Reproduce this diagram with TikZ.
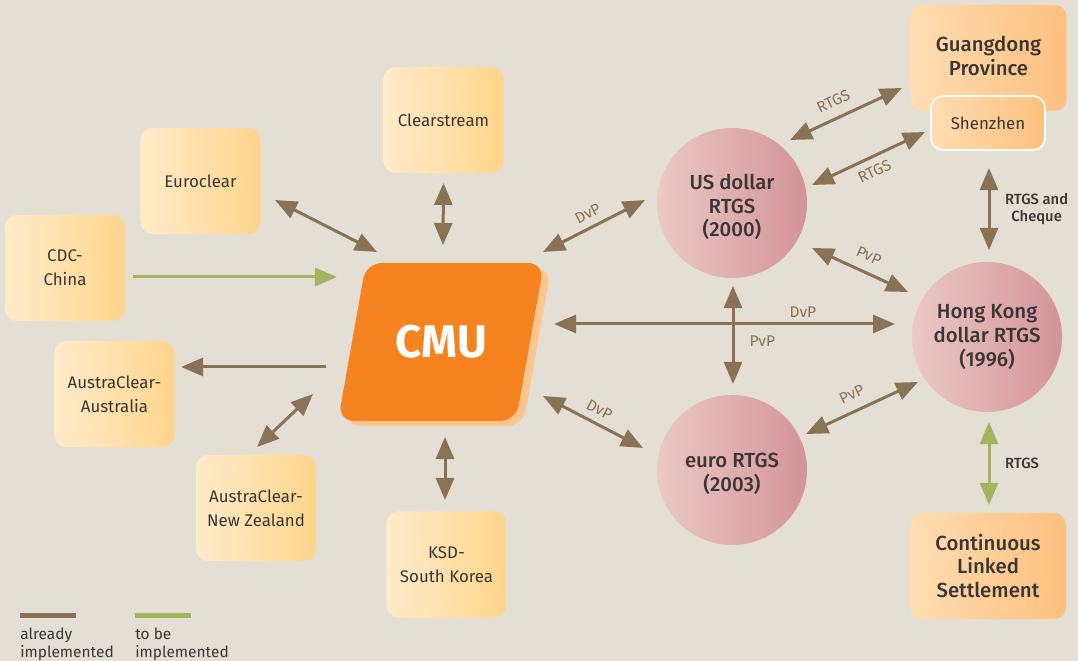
\documentclass[tikz,border=0pt]{standalone}
\usepackage{fontspec}
\setmainfont{Fira Sans}
\newfontfamily\medfont{Fira Sans Medium}
\usetikzlibrary{arrows.meta, calc}
\definecolor{bg}{HTML}{E4DFD4}
\definecolor{boxl}{HTML}{FFEBC9}
\definecolor{boxr}{HTML}{FFD58C}
\definecolor{hil}{HTML}{FFDDB2}
\definecolor{hir}{HTML}{FDC07E}
\definecolor{circl}{HTML}{EBC8C7}
\definecolor{circr}{HTML}{D3939A}
\definecolor{cmuorange}{HTML}{F5831F}
\definecolor{cmushade}{HTML}{FFC58F}
\definecolor{linkbrown}{HTML}{8A7255}
\definecolor{linkgreen}{HTML}{A5B35F}
\definecolor{ink}{HTML}{3A3634}
\tikzset{
	box/.style={rounded corners=3mm, minimum width=3cm, minimum height=2.65cm, inner sep=0pt,
		left color=boxl, right color=boxr, text=ink, align=center, font=\fontsize{12}{17}\selectfont}
}
\tikzset{
	hibox/.style={box, minimum width=3.9cm, left color=hil, right color=hir, font=\medfont\fontsize{14.5}{17}\selectfont}
}
\tikzset{
	circ/.style={circle, minimum size=3.75cm, inner sep=0pt, left color=circl, right color=circr},
	ctext/.style={text=ink, align=center, yshift=-1mm, font=\medfont\fontsize{14.5}{16.8}\selectfont}
}
\tikzset{
	both/.style={<->, draw=linkbrown, line width=0.75mm},
	one/.style={->, draw=linkbrown, line width=0.75mm},
	lbl/.style={font=\fontsize{11}{13}\selectfont, text=linkbrown, inner sep=5pt},
	farlbl/.style={lbl, inner sep=7pt},
	sidelbl/.style={font=\medfont\fontsize{10.5}{11.5}\selectfont, text=ink, align=center}
}

\begin{document}
\begin{tikzpicture}[x=0.025cm, y=-0.025cm, >={Triangle[length=5.5mm, width=4.5mm]}]
  \fill[bg] (0,0) rectangle (1078,661);
  \useasboundingbox (0,0) rectangle (1078,661);

  \node[box] (euroclear) at (200.5,181) {Euroclear};
  \node[box] (clear) at (443.5,120) {Clearstream};
  \node[box] (cdc) at (65,268) {CDC-\\China};
  \node[box] (ausau) at (114.5,394) {AustraClear-\\Australia};
  \node[box] (ausnz) at (256,508) {AustraClear-\\New Zealand};
  \node[box] (ksd) at (446.5,564.5) {KSD-\\South Korea};

  \begin{scope}[shift={(441,342)}]
    \fill[cmushade, rounded corners=4mm] (-68,-74) -- (110,-74) -- (82,84) -- (-96,84) -- cycle;
    \fill[cmuorange, rounded corners=4mm] (-75,-79) -- (103,-79) -- (75,79) -- (-103,79) -- cycle;
  \end{scope}
  \node[text=white, font=\bfseries\fontsize{32.5}{36}\selectfont] (cmu) at (441,342) {CMU};

  \node[circ, label={[ctext]center:{US dollar\\RTGS\\(2000)}}] (us) at (732,203) {};
  \node[circ, label={[ctext, yshift=1mm]center:{Hong Kong\\dollar RTGS\\(1996)}}] (hk) at (987,337) {};
  \node[circ, label={[ctext]center:{euro RTGS\\(2003)}}] (euro) at (732,470) {};

  \node[hibox, label={[ctext, yshift=1.5mm, font=\medfont\fontsize{14.5}{17}\selectfont]center:{Guangdong\\Province}}] (gd) at (988.5,58) {};
  \node[hibox, minimum width=2.85cm, minimum height=1.35cm, draw=white, line width=0.4mm,
    font=\fontsize{12}{14}\selectfont] (sz) at (988,123) {Shenzhen};
  \node[hibox] (cls) at (988,566) {Continuous\\Linked\\Settlement};

  \draw[both] ($(euroclear)+(74.5,19)$) -- ($(cmu)+(-64,-90)$);
  \draw[both] ($(clear)+(0,63)$) -- ($(cmu)+(2,-97)$);
  \draw[->, draw=linkgreen, line width=0.75mm] ($(cdc)+(68,9)$) -- ($(cmu)+(-104,-65)$);
  \draw[one] ($(cmu)+(-115,25)$) -- ($(ausau)+(66.5,-27)$);
  \draw[both] ($(ausnz)+(1,-61)$) -- ($(cmu)+(-128,52)$);
  \draw[both] ($(cmu)+(4,95)$) -- ($(ksd)+(-1.5,-64.5)$);

  \draw[both] ($(cmu)+(102,-90)$) -- node[lbl, above, sloped, pos=.5] {DvP} ($(us)+(-87,-3)$);
  \draw[both] ($(cmu)+(113,-18)$) -- node[lbl, inner sep=3.5pt, above, pos=.73] {DvP} ($(hk)+(-92,-13)$);
  \draw[both] ($(cmu)+(102,54)$) -- node[lbl, above, sloped, pos=.5] {DvP} ($(euro)+(-89,-22)$);
  \draw[both] ($(us)+(1,83)$) -- node[lbl, right, xshift=2mm, pos=.56] {PvP} ($(euro)+(1,-86)$);
  \draw[both] ($(us)+(58,-63)$) -- node[farlbl, above, sloped, pos=.45] {RTGS} ($(gd)+(-86.5,30)$);
  \draw[both] ($(us)+(80,-18)$) -- node[lbl, below, sloped, pos=.5] {RTGS} ($(sz)+(-63,9)$);
  \draw[both] ($(us)+(80,45)$) -- node[farlbl, above, sloped, pos=.52] {PvP} ($(hk)+(-79,-45)$);
  \draw[both] ($(euro)+(74,-36)$) -- node[farlbl, above, sloped, pos=.47] {PvP} ($(hk)+(-69,45)$);
  \draw[both] ($(sz)+(1,45)$) -- node[sidelbl, right, xshift=2.5mm] {RTGS and\\Cheque} ($(hk)+(2,-87)$);
  \draw[<->, draw=linkgreen, line width=0.75mm] ($(hk)+(2,85)$) -- node[sidelbl, right, xshift=2.5mm] {RTGS} ($(cls)+(1,-61)$);

  \draw[linkbrown, line width=1.25mm] (20,615) -- (76,615);
  \draw[linkgreen, line width=1.25mm] (135,615) -- (191,615);
  \node[anchor=north west, inner sep=0pt, align=left, text=ink, font=\fontsize{11}{12.5}\selectfont] (done) at (20,628) {already\\implemented};
  \node[anchor=north west, inner sep=0pt, align=left, text=ink, font=\fontsize{11}{12.5}\selectfont] (todo) at (135,628) {to be\\implemented};
\end{tikzpicture}
\end{document}
